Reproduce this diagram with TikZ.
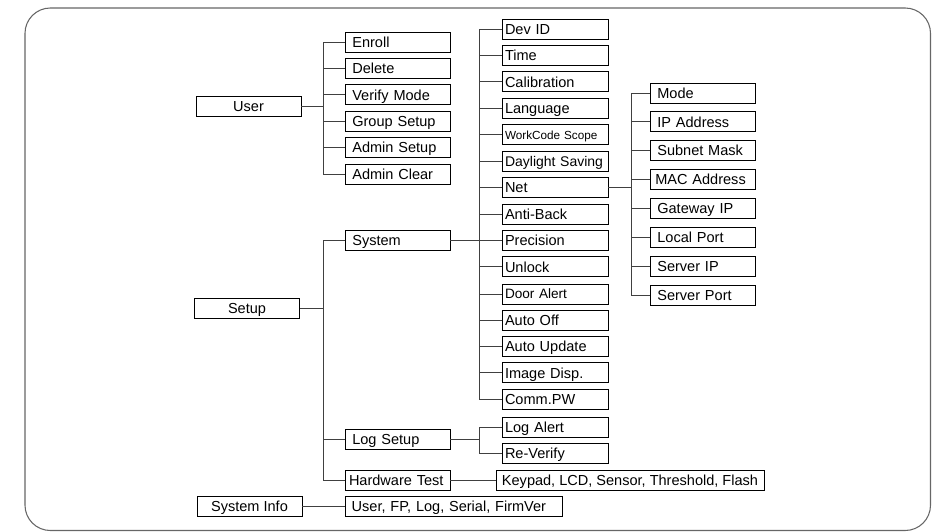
\documentclass[tikz,border=0pt]{standalone}
\usepackage{fontspec}
\setmainfont{Liberation Sans}
\newcommand\menufont{\fontsize{10.9}{13}\selectfont}
\begin{document}
\begin{tikzpicture}[x=0.75pt,y=-0.75pt,
  menu/.style={draw,line width=0.7pt,minimum height=15pt,inner ysep=0pt,text height=7.8pt,text depth=0pt,font=\menufont},
  head/.style={menu,minimum width=78.75pt},
  usub/.style={menu,inner xsep=5.5pt,text width=67.75pt,align=left},
  ssub/.style={menu,inner xsep=2.25pt,text width=75pt,align=left},
  conn/.style={draw=black!75,line width=0.7pt},
  frame/.style={draw=black!60,line width=0.8pt,rounded corners=19pt}]
\useasboundingbox (0,0) rectangle (932,532);
\draw[frame] (25,8) rectangle (930.5,530.5);
% first level
\node[head] (user) at (248.5,106.5) {User};
\node[head] (setup) at (247,308.5) {Setup};
\node[head] (sysinfo) at (249.5,506.5) {System Info};
% user menu
\node[usub] (enroll) at (397.5,42) {Enroll};
\node[usub] (delete) at (397.5,68.4) {Delete};
\node[usub] (verify) at (397.5,94.8) {Verify Mode};
\node[usub] (group) at (397.5,121.2) {Group Setup};
\node[usub] (admset) at (397.5,147.6) {Admin Setup};
\node[usub] (admclr) at (397.5,174) {Admin Clear};
% setup menu
\node[usub] (system) at (397.5,240) {System};
\node[usub] (logsetup) at (397.5,439) {Log Setup};
\node[usub,inner xsep=3pt,text width=72.75pt] (hwtest) at (397.5,480) {Hardware Test};
\node[menu,inner xsep=5pt,text width=152.75pt,align=left] (info) at (453.5,506.5) {User, FP, Log, Serial, FirmVer};
% system menu
\node[ssub] (devid) at (555,29) {Dev ID};
\node[ssub] (time) at (555,55.4) {Time};
\node[ssub] (calib) at (555,81.9) {Calibration};
\node[ssub] (lang) at (555,108.3) {Language};
\node[ssub,font=\fontsize{8.8}{10}\selectfont,text height=6.6pt] (wcode) at (555,134.7) {WorkCode Scope};
\node[ssub,font=\fontsize{10.5}{12}\selectfont] (dst) at (555,161.2) {Daylight Saving};
\node[ssub] (net) at (555,187.6) {Net};
\node[ssub] (antiback) at (555,214) {Anti-Back};
\node[ssub] (precision) at (555,240.4) {Precision};
\node[ssub] (unlock) at (555,266.9) {Unlock};
\node[ssub,font=\fontsize{10.2}{12}\selectfont,text height=7.4pt] (door) at (555,294) {Door Alert};
\node[ssub] (autooff) at (555,320.2) {Auto Off};
\node[ssub] (autoupd) at (555,346.6) {Auto Update};
\node[ssub] (image) at (555,372.8) {Image Disp.};
\node[ssub] (commpw) at (555,399) {Comm.PW};
% net menu
\node[usub] (mode) at (702.5,93) {Mode};
\node[usub] (ipaddr) at (702.5,121.9) {IP Address};
\node[usub] (subnet) at (702.5,150.7) {Subnet Mask};
\node[usub,inner xsep=4pt,text width=70.75pt] (mac) at (702.5,179.6) {MAC Address};
\node[usub] (gateway) at (702.5,208.4) {Gateway IP};
\node[usub] (lport) at (702.5,237.3) {Local Port};
\node[usub] (serverip) at (702.5,266.2) {Server IP};
\node[usub] (sport) at (702.5,295) {Server Port};
% log setup and hardware test
\node[ssub] (logalert) at (555,427) {Log Alert};
\node[ssub] (reverify) at (555,453) {Re-Verify};
\node[menu,minimum width=201pt] (keypad) at (630,480) {Keypad, LCD, Sensor, Threshold, Flash};
% connectors
\draw[conn] (user.east) -- ++(22,0) |- (enroll.west) (user.east) -- ++(22,0) |- (delete.west)
  (user.east) -- ++(22,0) |- (verify.west) (user.east) -- ++(22,0) |- (group.west)
  (user.east) -- ++(22,0) |- (admset.west) (user.east) -- ++(22,0) |- (admclr.west);
\draw[conn] (setup.east) -- ++(23.5,0) |- (system.west) (setup.east) -- ++(23.5,0) |- (logsetup.west)
  (setup.east) -- ++(23.5,0) |- (hwtest.west);
\draw[conn] (system.east) -- ++(29,0) |- (devid.west) (system.east) -- ++(29,0) |- (time.west)
  (system.east) -- ++(29,0) |- (calib.west) (system.east) -- ++(29,0) |- (lang.west)
  (system.east) -- ++(29,0) |- (wcode.west) (system.east) -- ++(29,0) |- (dst.west)
  (system.east) -- ++(29,0) |- (net.west) (system.east) -- ++(29,0) |- (antiback.west)
  (system.east) -- ++(29,0) |- (precision.west) (system.east) -- ++(29,0) |- (unlock.west)
  (system.east) -- ++(29,0) |- (door.west) (system.east) -- ++(29,0) |- (autooff.west)
  (system.east) -- ++(29,0) |- (autoupd.west) (system.east) -- ++(29,0) |- (image.west)
  (system.east) -- ++(29,0) |- (commpw.west);
\draw[conn] (net.east) -- ++(23,0) |- (mode.west) (net.east) -- ++(23,0) |- (ipaddr.west)
  (net.east) -- ++(23,0) |- (subnet.west) (net.east) -- ++(23,0) |- (mac.west)
  (net.east) -- ++(23,0) |- (gateway.west) (net.east) -- ++(23,0) |- (lport.west)
  (net.east) -- ++(23,0) |- (serverip.west) (net.east) -- ++(23,0) |- (sport.west);
\draw[conn] (logsetup.east) -- ++(29,0) |- (logalert.west) (logsetup.east) -- ++(29,0) |- (reverify.west);
\draw[conn] (hwtest.east) -- (keypad.west);
\draw[conn] (sysinfo.east) -- (info.west);
\end{tikzpicture}
\end{document}
